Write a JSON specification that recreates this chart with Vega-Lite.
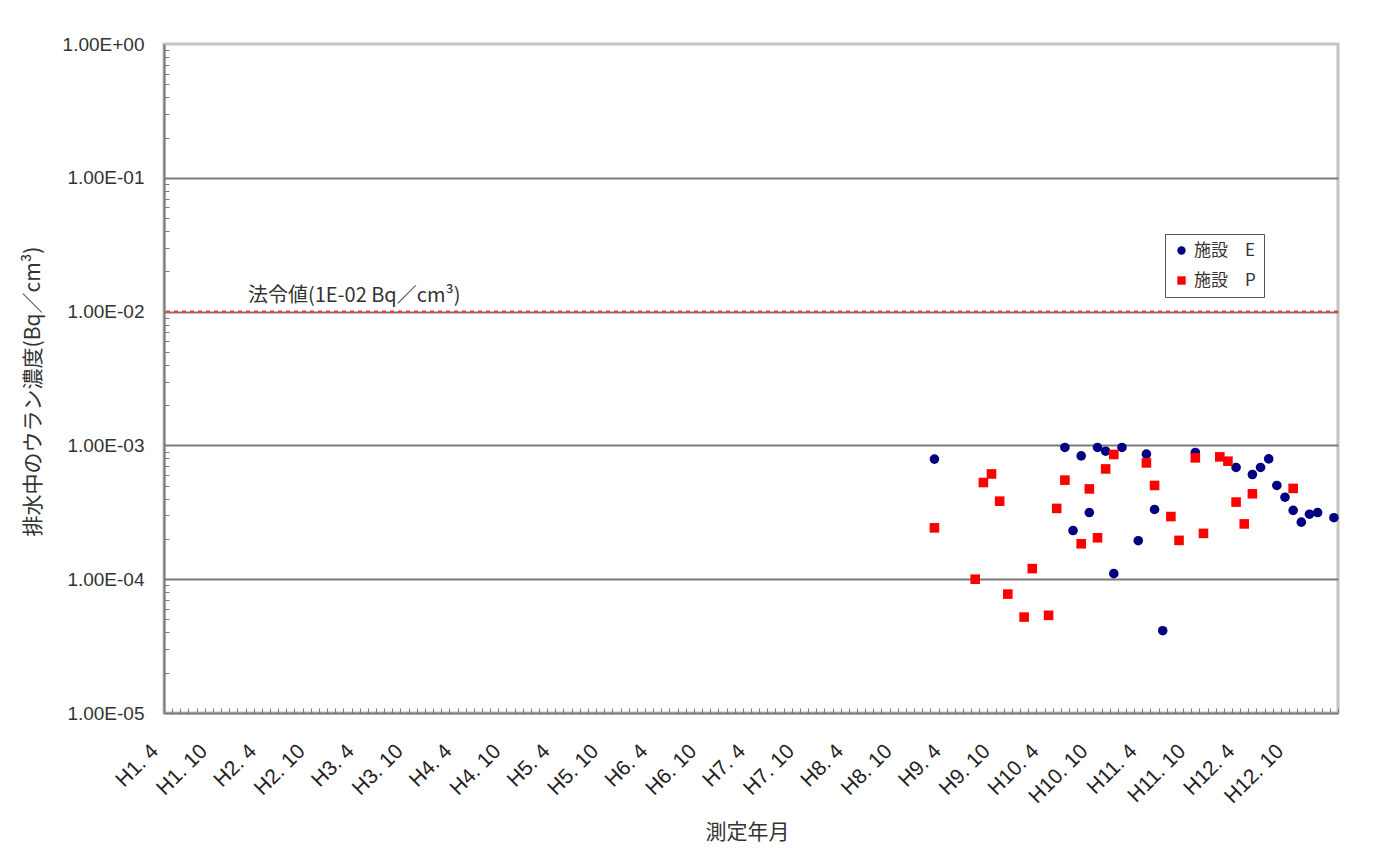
{
  "$schema": "https://vega.github.io/schema/vega-lite/v6.json",
  "width": 1174,
  "height": 669,
  "autosize": {"type": "none"},
  "padding": {"left": 164, "top": 44, "right": 42, "bottom": 144},
  "background": "white",
  "config": {
    "view": {"stroke": "#c4c4c4", "strokeWidth": 3},
    "font": "Liberation Sans"
  },
  "datasets": {
    "pts": [
      {"month": 94, "value": 0.00079, "facility": "施設　E"},
      {"month": 110, "value": 0.000965, "facility": "施設　E"},
      {"month": 111, "value": 0.000231, "facility": "施設　E"},
      {"month": 112, "value": 0.000835, "facility": "施設　E"},
      {"month": 113, "value": 0.000315, "facility": "施設　E"},
      {"month": 114, "value": 0.000965, "facility": "施設　E"},
      {"month": 115, "value": 0.000905, "facility": "施設　E"},
      {"month": 116, "value": 0.00011, "facility": "施設　E"},
      {"month": 117, "value": 0.000965, "facility": "施設　E"},
      {"month": 119, "value": 0.000194, "facility": "施設　E"},
      {"month": 120, "value": 0.00086, "facility": "施設　E"},
      {"month": 121, "value": 0.000332, "facility": "施設　E"},
      {"month": 122, "value": 0.0000412, "facility": "施設　E"},
      {"month": 126, "value": 0.000885, "facility": "施設　E"},
      {"month": 131, "value": 0.000684, "facility": "施設　E"},
      {"month": 133, "value": 0.000606, "facility": "施設　E"},
      {"month": 134, "value": 0.000684, "facility": "施設　E"},
      {"month": 135, "value": 0.000793, "facility": "施設　E"},
      {"month": 136, "value": 0.000502, "facility": "施設　E"},
      {"month": 137, "value": 0.00041, "facility": "施設　E"},
      {"month": 138, "value": 0.000327, "facility": "施設　E"},
      {"month": 139, "value": 0.000267, "facility": "施設　E"},
      {"month": 140, "value": 0.000306, "facility": "施設　E"},
      {"month": 141, "value": 0.000315, "facility": "施設　E"},
      {"month": 143, "value": 0.000288, "facility": "施設　E"},
      {"month": 94, "value": 0.000242, "facility": "施設　P"},
      {"month": 99, "value": 0.0001, "facility": "施設　P"},
      {"month": 100, "value": 0.000528, "facility": "施設　P"},
      {"month": 101, "value": 0.000612, "facility": "施設　P"},
      {"month": 102, "value": 0.000383, "facility": "施設　P"},
      {"month": 103, "value": 0.0000774, "facility": "施設　P"},
      {"month": 105, "value": 0.0000521, "facility": "施設　P"},
      {"month": 106, "value": 0.00012, "facility": "施設　P"},
      {"month": 108, "value": 0.0000537, "facility": "施設　P"},
      {"month": 109, "value": 0.000338, "facility": "施設　P"},
      {"month": 110, "value": 0.00055, "facility": "施設　P"},
      {"month": 112, "value": 0.000184, "facility": "施設　P"},
      {"month": 113, "value": 0.000473, "facility": "施設　P"},
      {"month": 114, "value": 0.000204, "facility": "施設　P"},
      {"month": 115, "value": 0.000667, "facility": "施設　P"},
      {"month": 116, "value": 0.000855, "facility": "施設　P"},
      {"month": 120, "value": 0.00074, "facility": "施設　P"},
      {"month": 121, "value": 0.000502, "facility": "施設　P"},
      {"month": 123, "value": 0.000294, "facility": "施設　P"},
      {"month": 124, "value": 0.000195, "facility": "施設　P"},
      {"month": 126, "value": 0.000807, "facility": "施設　P"},
      {"month": 127, "value": 0.00022, "facility": "施設　P"},
      {"month": 129, "value": 0.000821, "facility": "施設　P"},
      {"month": 130, "value": 0.000762, "facility": "施設　P"},
      {"month": 131, "value": 0.000377, "facility": "施設　P"},
      {"month": 132, "value": 0.000259, "facility": "施設　P"},
      {"month": 133, "value": 0.000435, "facility": "施設　P"},
      {"month": 138, "value": 0.000477, "facility": "施設　P"}
    ],
    "limit": [{"label": "法令値(1E-02 Bq／cm³)", "month": 9.8, "value": 0.01}]
  },
  "layer": [
    {
      "data": {"name": "pts"},
      "mark": {"type": "point", "filled": true, "opacity": 1, "strokeWidth": 0, "size": 92},
      "encoding": {
        "x": {
          "field": "month", "type": "quantitative",
          "scale": {"domain": [-0.5, 143.5], "nice": false, "zero": false},
          "axis": {
            "orient": "bottom",
            "values": [0, 6, 12, 18, 24, 30, 36, 42, 48, 54, 60, 66, 72, 78, 84, 90, 96, 102, 108, 114, 120, 126, 132, 138],
            "labelExpr": "'H' + (floor(datum.value/12)+1) + '. ' + (datum.value % 12 == 0 ? '4' : '10')",
            "labelAngle": -45, "labelFontSize": 21, "labelColor": "#222", "labelFont": "Liberation Sans",
            "labelPadding": 27, "labelOffset": -21, "labelFlush": false, "labelOverlap": false, "labelBound": false,
            "tickSize": 0, "grid": false,
            "domainColor": "#7a7a7a", "domainWidth": 2,
            "title": "測定年月", "titleFont": "Noto Sans CJK JP", "titleFontSize": 21, "titleFontWeight": "normal",
            "titleColor": "#333", "titleX": 583, "titleY": 119, "titleBaseline": "middle", "titleAlign": "center"
          }
        },
        "y": {
          "field": "value", "type": "quantitative",
          "scale": {"type": "log", "domain": [0.00001, 1], "nice": false},
          "axis": {
            "orient": "left",
            "values": [0.00001, 0.0001, 0.001, 0.01, 0.1, 1],
            "labelExpr": "'1.00E' + (datum.value >= 1 ? '+' : '-') + '0' + abs(round(log(datum.value)/LN10))",
            "labelFontSize": 19, "labelColor": "#333", "labelFont": "Liberation Sans", "labelPadding": 20,
            "tickSize": 0,
            "grid": true, "gridColor": "#7a7a7a", "gridWidth": 2,
            "gridOpacity": {"condition": {"test": "datum.value >= 1 || datum.value <= 0.00001", "value": 0}, "value": 1},
            "domainColor": "#7a7a7a", "domainWidth": 2,
            "title": "排水中のウラン濃度(Bq／cm³)", "titleFont": "Noto Sans CJK JP", "titleFontSize": 21,
            "titleFontWeight": "normal", "titleColor": "#333", "titleAngle": -90,
            "titleX": -131, "titleY": 347, "titleAlign": "center", "titleBaseline": "middle"
          }
        },
        "color": {
          "field": "facility", "type": "nominal",
          "scale": {"domain": ["施設　E", "施設　P"], "range": ["#000080", "#ff0000"]},
          "legend": {
            "orient": "none", "legendX": 1001, "legendY": 190, "title": null,
            "strokeColor": "#555", "fillColor": "white", "padding": 8,
            "labelFont": "Noto Sans CJK JP", "labelFontSize": 17, "labelColor": "#333",
            "symbolSize": 70, "rowPadding": 12, "symbolStrokeWidth": 0
          }
        },
        "shape": {
          "field": "facility", "type": "nominal",
          "scale": {"domain": ["施設　E", "施設　P"], "range": ["circle", "square"]},
          "legend": {
            "orient": "none", "legendX": 1001, "legendY": 190, "title": null,
            "strokeColor": "#555", "fillColor": "white", "padding": 8,
            "labelFont": "Noto Sans CJK JP", "labelFontSize": 17, "labelColor": "#333",
            "symbolSize": 70, "rowPadding": 12, "symbolStrokeWidth": 0
          }
        }
      }
    },
    {
      "data": {"name": "limit"},
      "mark": {"type": "rule", "color": "#ff3030", "strokeWidth": 2, "strokeDash": [4, 4]},
      "encoding": {
        "y": {"field": "value", "type": "quantitative", "axis": null}
      }
    },
    {
      "data": {"name": "limit"},
      "mark": {"type": "text", "align": "left", "baseline": "bottom", "dy": -6, "font": "Noto Sans CJK JP", "fontSize": 20, "color": "#333"},
      "encoding": {
        "text": {"field": "label"},
        "x": {
          "field": "month", "type": "quantitative",
          "axis": {
            "orient": "bottom",
            "values": [-0.5, 0.5, 1.5, 2.5, 3.5, 4.5, 5.5, 6.5, 7.5, 8.5, 9.5, 10.5, 11.5, 12.5, 13.5, 14.5, 15.5, 16.5, 17.5, 18.5, 19.5, 20.5, 21.5, 22.5, 23.5, 24.5, 25.5, 26.5, 27.5, 28.5, 29.5, 30.5, 31.5, 32.5, 33.5, 34.5, 35.5, 36.5, 37.5, 38.5, 39.5, 40.5, 41.5, 42.5, 43.5, 44.5, 45.5, 46.5, 47.5, 48.5, 49.5, 50.5, 51.5, 52.5, 53.5, 54.5, 55.5, 56.5, 57.5, 58.5, 59.5, 60.5, 61.5, 62.5, 63.5, 64.5, 65.5, 66.5, 67.5, 68.5, 69.5, 70.5, 71.5, 72.5, 73.5, 74.5, 75.5, 76.5, 77.5, 78.5, 79.5, 80.5, 81.5, 82.5, 83.5, 84.5, 85.5, 86.5, 87.5, 88.5, 89.5, 90.5, 91.5, 92.5, 93.5, 94.5, 95.5, 96.5, 97.5, 98.5, 99.5, 100.5, 101.5, 102.5, 103.5, 104.5, 105.5, 106.5, 107.5, 108.5, 109.5, 110.5, 111.5, 112.5, 113.5, 114.5, 115.5, 116.5, 117.5, 118.5, 119.5, 120.5, 121.5, 122.5, 123.5, 124.5, 125.5, 126.5, 127.5, 128.5, 129.5, 130.5, 131.5, 132.5, 133.5, 134.5, 135.5, 136.5, 137.5, 138.5, 139.5, 140.5, 141.5, 142.5, 143.5],
            "labels": false, "grid": false, "domain": false, "title": null,
            "tickSize": -5, "tickColor": "#7a7a7a", "tickWidth": 1
          }
        },
        "y": {
          "field": "value", "type": "quantitative",
          "axis": {
            "orient": "left",
            "values": [0.00002, 0.00003, 0.00004, 0.00005, 0.00006, 0.00007, 0.00008, 0.00009, 0.0002, 0.0003, 0.0004, 0.0005, 0.0006, 0.0007, 0.0008, 0.0009, 0.002, 0.003, 0.004, 0.005, 0.006, 0.007, 0.008, 0.009, 0.02, 0.03, 0.04, 0.05, 0.06, 0.07, 0.08, 0.09, 0.2, 0.3, 0.4, 0.5, 0.6, 0.7, 0.8, 0.9],
            "labels": false, "grid": false, "domain": false, "title": null,
            "tickSize": -5, "tickColor": "#7a7a7a", "tickWidth": 1
          }
        }
      }
    }
  ],
  "resolve": {"axis": {"x": "independent", "y": "independent"}}
}
